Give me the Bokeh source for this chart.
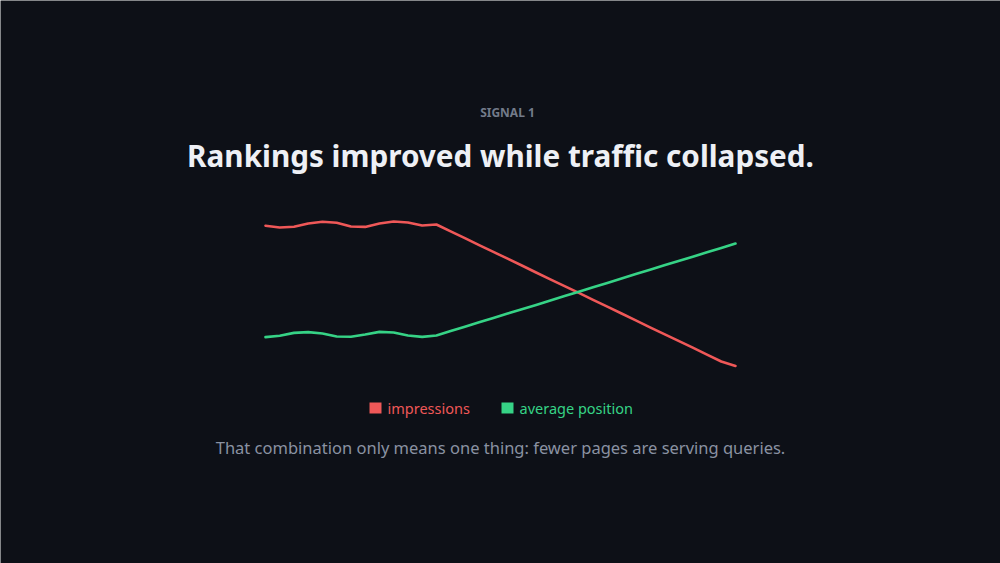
from bokeh.plotting import figure
from bokeh.models import Label, BoxAnnotation, Range1d
from bokeh.embed import file_html
from bokeh.resources import INLINE

# ---- data (index values, 34 periods) ----
periods = list(range(34))
impressions = [87.4, 86.5, 86.9, 88.5, 89.4, 88.9, 87.0, 86.8, 88.5, 89.5, 89.0, 87.5, 88.0,
               84.6, 81.2, 77.7, 74.3, 70.9, 67.5, 64.0, 60.6, 57.2, 53.8, 50.3, 46.9,
               43.5, 40.1, 36.6, 33.2, 29.8, 26.4, 22.9, 19.5, 17.3]
avg_position = [31.7, 32.4, 33.8, 34.2, 33.5, 32.0, 31.9, 33.0, 34.3, 34.0, 32.5, 31.8, 32.5,
                34.7, 36.9, 39.1, 41.3, 43.5, 45.6, 47.8, 50.0, 52.2, 54.4, 56.6, 58.8,
                61.0, 63.2, 65.4, 67.6, 69.7, 71.9, 74.1, 76.3, 78.5]
series_names = ["impressions", "average position"]

kicker = "SIGNAL 1"
title = "Rankings improved while traffic collapsed."
subtitle = "That combination only means one thing: fewer pages are serving queries."

# ---- style ----
BG = "#0d1017"
RED = "#ef5858"
GREEN = "#36d386"
W, H = 1000, 563

p = figure(width=W, height=H, output_backend="svg", toolbar_location=None,
           min_border=0, min_border_left=0, min_border_right=0,
           min_border_top=0, min_border_bottom=0)
p.x_range = Range1d(-18.606, 51.607)
p.y_range = Range1d(-81.5, 200)
p.background_fill_color = BG
p.border_fill_color = BG
p.outline_line_color = None
p.axis.visible = False
p.grid.visible = False

p.line(periods, impressions, line_color=RED, line_width=2.6, line_join="round", line_cap="round")
p.line(periods, avg_position, line_color=GREEN, line_width=2.6, line_join="round", line_cap="round")

font = "Noto Sans"
p.add_layout(Label(x=507, y=451, x_units="screen", y_units="screen", text=kicker,
                   text_font=font, text_font_size="12px", text_font_style="bold",
                   text_color="#737b8a", text_align="center", text_baseline="middle"))
p.add_layout(Label(x=500, y=408, x_units="screen", y_units="screen", text=title,
                   text_font=font, text_font_size="29.7px", text_font_style="bold",
                   text_color="#eef0f5", text_align="center", text_baseline="middle"))
p.add_layout(Label(x=500, y=116, x_units="screen", y_units="screen", text=subtitle,
                   text_font=font, text_font_size="16.5px",
                   text_color="#8a92a2", text_align="center", text_baseline="middle"))

# legend
for name, col, sq_left, tx in [(series_names[0], RED, 369, 387), (series_names[1], GREEN, 501, 519)]:
    p.add_layout(BoxAnnotation(left=sq_left, right=sq_left + 12, bottom=150, top=161,
                               left_units="screen", right_units="screen",
                               bottom_units="screen", top_units="screen",
                               fill_color=col, fill_alpha=1.0, line_color=None))
    p.add_layout(Label(x=tx, y=156, x_units="screen", y_units="screen", text=name,
                       text_font=font, text_font_size="14.5px", text_color=col,
                       text_align="left", text_baseline="middle"))

open("out.html", "w").write(file_html(p, INLINE))
